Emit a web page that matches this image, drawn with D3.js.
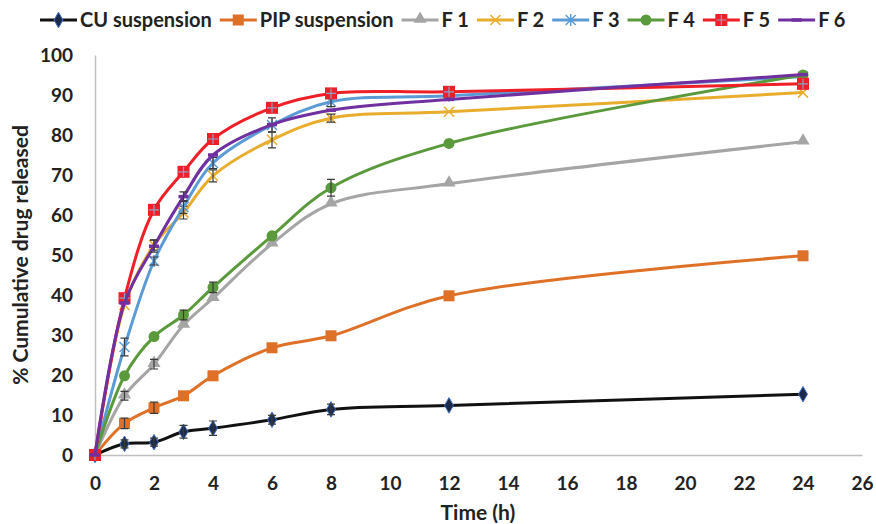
<!DOCTYPE html>
<html>
<head>
<meta charset="utf-8">
<script src="https://cdn.jsdelivr.net/npm/d3@7"></script>
<style>
  body { margin: 0; background: #fff; }
  text { font-family: Lato, "Open Sans", sans-serif; font-weight: bold; fill: #222; }
</style>
</head>
<body>
<svg class="chart"></svg>
<script>
// time points (h)
var times = [0, 1, 2, 3, 4, 6, 8, 12, 24];

var names = ["CU suspension", "PIP suspension", "F 1", "F 2", "F 3", "F 4", "F 5", "F 6"];

// % released per series
var cuVals  = [0, 2.8, 3.2, 5.8, 6.7, 8.8, 11.4, 12.4, 15.2];
var pipVals = [0, 7.9, 11.8, 14.8, 19.8, 26.8, 29.8, 39.8, 49.8];
var f1Vals  = [0, 14.8, 22.7, 32.5, 39.2, 52.8, 62.8, 67.8, 78.3];
var f2Vals  = [0, 37.5, 52.5, 60.6, 69.8, 78.8, 84.2, 85.8, 90.6];
var f3Vals  = [0, 27, 48.5, 62, 73, 82.5, 88.3, 89.8, 94.6];
var f4Vals  = [0, 19.8, 29.6, 35, 41.9, 54.8, 66.8, 77.9, 95];
var f5Vals  = [0, 39.2, 61.3, 70.8, 79, 86.8, 90.4, 90.8, 92.8];
var f6Vals  = [0, 38, 52.2, 64.6, 75, 82.6, 86.2, 88.9, 95.1];

// error bars (sd), 0 = none drawn
var cuErr  = [0, 1, 1, 1.6, 1.8, 1.1, 1.3, 0, 0];
var pipErr = [0, 1.3, 1.4, 0, 0, 0, 0, 0, 0];
var f1Err  = [0, 1.1, 1.2, 0, 0, 0, 0, 0, 0];
var f2Err  = [0, 0, 1.3, 1.6, 1.5, 2, 1, 0, 0];
var f3Err  = [0, 2.2, 1, 1.6, 1.4, 1.8, 1.2, 0, 0];
var f4Err  = [0, 0, 0, 1.2, 1.3, 0, 2.1, 0, 0];
var f5Err  = [0, 0, 0, 0, 0, 0, 0, 0, 0];
var f6Err  = [0, 0, 1.5, 1.2, 0, 0, 0, 0, 0];

var xTicks = d3.range(0, 27, 2);
var yTicks = d3.range(0, 101, 10);

var svg = {};
(function(){
    var self = this
    , width = 876
    , height = 524;
    self.canvas = d3.select(".chart").attr("width", width).attr("height", height);
}).apply(svg);

var x = d3.scaleLinear().domain([0, 26]).range([95, 862]);
var y = d3.scaleLinear().domain([0, 100]).range([455, 55]);

var series = [
  {name: names[0], vals: cuVals,  err: cuErr,  color: "#111111", marker: "diamond"},
  {name: names[1], vals: pipVals, err: pipErr, color: "#df7027", marker: "square"},
  {name: names[2], vals: f1Vals,  err: f1Err,  color: "#a5a5a5", marker: "triangle"},
  {name: names[3], vals: f2Vals,  err: f2Err,  color: "#e8ad2c", marker: "x"},
  {name: names[4], vals: f3Vals,  err: f3Err,  color: "#5b9bd5", marker: "star"},
  {name: names[5], vals: f4Vals,  err: f4Err,  color: "#5b9a3c", marker: "circle"},
  {name: names[6], vals: f5Vals,  err: f5Err,  color: "#ee1f27", marker: "plus"},
  {name: names[7], vals: f6Vals,  err: f6Err,  color: "#7030a0", marker: "dash"}
];

var canvas = svg.canvas;

// axes
var xAxis = canvas.append("g").attr("transform", "translate(0,455)")
  .call(d3.axisBottom(x).tickValues(xTicks).tickSize(0).tickPadding(22));
var yAxis = canvas.append("g").attr("transform", "translate(95,0)")
  .call(d3.axisLeft(y).tickValues(yTicks).tickSize(0).tickPadding(22));
[xAxis, yAxis].forEach(function(a){
  a.select(".domain").attr("stroke", "#bfbfbf").attr("stroke-width", 1.5);
  a.selectAll("text").attr("font-size", "19px").attr("fill", "#222")
    .style("font-family", "Lato, sans-serif").style("font-weight", "bold");
});

canvas.append("text")
  .attr("x", 478).attr("y", 520)
  .attr("text-anchor", "middle").attr("font-size", "21px")
  .text("Time (h)");
canvas.append("text")
  .attr("transform", "translate(28,255) rotate(-90)")
  .attr("text-anchor", "middle").attr("font-size", "21px")
  .text("% Cumulative drug released");

var line = d3.line()
  .x(function(d){ return x(d[0]); })
  .y(function(d){ return y(d[1]); })
  .curve(d3.curveCatmullRom.alpha(0.5));

function drawMarker(g, type, color, cx, cy){
  if(type === "diamond"){
    g.append("path").attr("d", d3.symbol(d3.symbolDiamond, 70)())
      .attr("transform", "translate(" + cx + "," + cy + ")")
      .attr("fill", "#1c2a4a").attr("stroke", "#4472c4").attr("stroke-width", 1);
  } else if(type === "square"){
    g.append("rect").attr("x", cx - 5.5).attr("y", cy - 5.5).attr("width", 11).attr("height", 11)
      .attr("fill", color);
  } else if(type === "triangle"){
    g.append("path").attr("d", d3.symbol(d3.symbolTriangle, 75)())
      .attr("transform", "translate(" + cx + "," + (cy - 1) + ")")
      .attr("fill", color);
  } else if(type === "x"){
    g.append("path").attr("d", "M-5,-5L5,5M-5,5L5,-5")
      .attr("transform", "translate(" + cx + "," + cy + ")")
      .attr("stroke", color).attr("stroke-width", 1.5).attr("fill", "none");
  } else if(type === "star"){
    g.append("path").attr("d", "M-5,-5L5,5M-5,5L5,-5M0,-6L0,6")
      .attr("transform", "translate(" + cx + "," + cy + ")")
      .attr("stroke", color).attr("stroke-width", 1.5).attr("fill", "none");
  } else if(type === "circle"){
    g.append("circle").attr("cx", cx).attr("cy", cy).attr("r", 5.5).attr("fill", color);
  } else if(type === "plus"){
    g.append("rect").attr("x", cx - 6).attr("y", cy - 6).attr("width", 12).attr("height", 12)
      .attr("fill", color);
    g.append("path").attr("d", "M-5,0L5,0M0,-5L0,5")
      .attr("transform", "translate(" + cx + "," + cy + ")")
      .attr("stroke", "#8ea2c8").attr("stroke-width", 1.2);
  } else if(type === "dash"){
    g.append("path").attr("d", "M-5,0L5,0")
      .attr("transform", "translate(" + cx + "," + cy + ")")
      .attr("stroke", color).attr("stroke-width", 3.5);
  }
}

series.forEach(function(s){
  var pts = times.map(function(t, i){ return [t, s.vals[i], s.err[i]]; });
  var g = canvas.append("g");
  g.append("path").datum(pts)
    .attr("d", line).attr("fill", "none")
    .attr("stroke", s.color).attr("stroke-width", 3);
  pts.forEach(function(p){ drawMarker(g, s.marker, s.color, x(p[0]), y(p[1])); });
  var eb = g.selectAll(".eb").data(pts.filter(function(p){ return p[2] > 0; })).enter();
  eb.append("path")
    .attr("d", function(p){
      var cx = x(p[0]), t = y(p[1] + p[2]), b = y(p[1] - p[2]);
      return "M" + cx + "," + t + "L" + cx + "," + b +
             "M" + (cx - 4) + "," + t + "L" + (cx + 4) + "," + t +
             "M" + (cx - 4) + "," + b + "L" + (cx + 4) + "," + b;
    })
    .attr("stroke", "#3a3a3a").attr("stroke-width", 1.2).attr("fill", "none");
});

// legend
var lx = 40, ly = 20;
series.forEach(function(s, i){
  var g = canvas.append("g");
  g.append("line").attr("x1", lx).attr("x2", lx + 37).attr("y1", ly).attr("y2", ly)
    .attr("stroke", s.color).attr("stroke-width", 3);
  drawMarker(g, s.marker, s.color, lx + 18.5, ly);
  var t = g.append("text").attr("x", lx + 40).attr("y", ly + 7)
    .attr("font-size", "20px").text(s.name);
  lx += 40 + t.node().getComputedTextLength() + 8;
});
</script>
</body>
</html>
